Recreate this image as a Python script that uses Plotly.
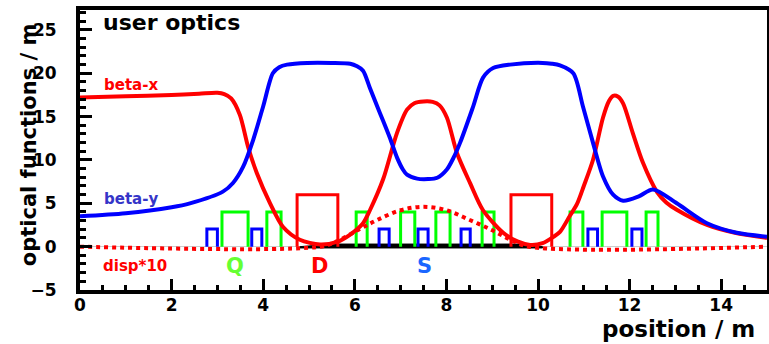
import plotly.graph_objects as go

# ---- data ----
s_betx = [0, 1, 2, 2.6, 3.0, 3.15, 3.3, 3.49, 3.67, 3.86, 4.15, 4.43, 4.8, 5.24, 5.61, 5.9, 6.18, 6.33,
          6.62, 6.92, 7.14, 7.3, 7.5, 7.7, 7.85, 8.01, 8.23, 8.52, 8.8, 9.24, 9.55, 9.83, 10.1, 10.33,
          10.48, 10.7, 10.85, 11.0, 11.2, 11.42, 11.55, 11.64, 11.75, 11.86, 12.07, 12.29, 12.6, 12.8, 13.03,
          13.69, 14.3, 15]
betx = [17.2, 17.35, 17.5, 17.65, 17.75, 17.6, 17.1, 15.2, 11.5, 8.5, 5.0, 2.3, 0.8, 0.25, 0.55, 1.4, 2.7, 4.2,
        7.8, 13.1, 15.8, 16.55, 16.75, 16.7, 16.3, 14.9, 10.8, 7.3, 4.2, 1.6, 0.6, 0.2, 0.4, 1.1,
        1.7, 3.6, 4.9, 7.0, 10.0, 14.9, 16.8, 17.4, 17.3, 16.5, 13.1, 9.7, 6.3, 5.1, 4.25,
        2.5, 1.6, 1.0]

s_bety = [0, 1, 2, 2.4, 3.12, 3.34, 3.56, 3.78, 4.0, 4.21, 4.35, 4.52, 4.96, 5.5, 5.9, 6.05, 6.18, 6.33,
          6.48, 6.62, 6.77, 6.92, 7.05, 7.14, 7.36, 7.6, 7.8, 8.01, 8.15, 8.3, 8.58, 8.8, 9.02, 9.39,
          10.1, 10.3, 10.48, 10.77, 10.98, 11.2, 11.42, 11.64, 11.86, 12.2, 12.51, 13.03, 13.69, 14.34, 15]
bety = [3.5, 3.85, 4.55, 5.0, 6.35, 7.35, 9.2, 12.3, 16.2, 20.0, 20.7, 21.0, 21.2, 21.2, 21.1, 20.8, 20.3, 18.3,
        16.3, 14.5, 12.5, 10.3, 8.9, 8.3, 7.85, 7.8, 7.95, 8.9, 10.2, 12.0, 16.1, 19.5, 20.6, 21.0,
        21.2, 21.1, 20.9, 20.0, 16.2, 12.0, 8.1, 6.0, 5.3, 5.8, 6.6, 5.0, 2.7, 1.6, 1.15]

s_disp = [0, 5.24, 5.6, 6.1, 6.5, 7.0, 7.5, 8.0, 8.5, 9.0, 9.4, 9.8, 15]
disp10 = [0, 0, 0.6, 2.0, 3.1, 4.2, 4.6, 4.2, 3.1, 1.9, 0.8, 0, 0]

# thick black band on the axis (beam pipe region)
band_s = [4.8, 5.5, 9.6, 10.1, 10.1, 4.8]
band_y = [0.0, 0.3, 0.3, 0.0, -0.15, -0.15]

# lattice elements: (start, end)
sext_start = [2.77, 3.75, 6.53, 7.38, 8.32, 11.09, 12.05]
sext_end = [3.00, 3.97, 6.75, 7.60, 8.52, 11.30, 12.27]
quad_start = [3.10, 4.08, 6.03, 7.00, 7.77, 8.78, 10.70, 11.40, 12.36]
quad_end = [3.67, 4.39, 6.27, 7.31, 8.08, 9.04, 10.98, 11.94, 12.62]
dip_start = [4.74, 9.41]
dip_end = [5.63, 10.30]
sext_h, quad_h, dip_h = 2.05, 4.0, 6.0

x_ticks = [0, 2, 4, 6, 8, 10, 12, 14]
y_ticks = [-5, 0, 5, 10, 15, 20, 25]

RED, BLUE, GREEN = "#ff0000", "#0000ff", "#00ff00"
FONT = "DejaVu Sans"

fig = go.Figure()

def boxes(starts, ends, h, color):
    xs, ys = [], []
    for a, b in zip(starts, ends):
        xs += [a, a, b, b, None]
        ys += [0, h, h, 0, None]
    fig.add_trace(go.Scatter(x=xs, y=ys, mode="lines",
                             line=dict(color=color, width=3), hoverinfo="skip"))

fig.add_trace(go.Scatter(x=band_s, y=band_y, fill="toself", mode="lines",
                         fillcolor="black", line=dict(color="black", width=1), hoverinfo="skip"))
boxes(sext_start, sext_end, sext_h, BLUE)
boxes(quad_start, quad_end, quad_h, GREEN)
boxes(dip_start, dip_end, dip_h, RED)

fig.add_trace(go.Scatter(x=s_disp, y=disp10, mode="lines", line_shape="spline",
                         line=dict(color=RED, width=4, dash="4px,4px")))
fig.add_trace(go.Scatter(x=s_betx, y=betx, mode="lines", line_shape="spline",
                         line=dict(color=RED, width=4, smoothing=0.8)))
fig.add_trace(go.Scatter(x=s_bety, y=bety, mode="lines", line_shape="spline",
                         line=dict(color=BLUE, width=4, smoothing=0.8)))

def label(x, y, text, color, size, anchor="left"):
    fig.add_annotation(x=x, y=y, text=text, showarrow=False, xanchor=anchor, yanchor="middle",
                       font=dict(family=FONT, size=size, color=color, weight="bold"))

label(0.45, 25.9, "user optics", "black", 22)
label(0.48, 18.6, "beta-x", RED, 15)
label(0.48, 5.5, "beta-y", "#3535c8", 15)
label(0.45, -2.2, "disp*10", RED, 15)
label(3.38, -2.2, "Q", "#66ff33", 21, "center")
label(5.24, -2.2, "D", RED, 21, "center")
label(7.53, -2.2, "S", "#1a66ff", 21, "center")

fig.add_annotation(xref="paper", yref="paper", x=0.985, y=-0.085, text="position / m",
                   showarrow=False, xanchor="right", yanchor="top",
                   font=dict(family=FONT, size=23, color="black", weight="bold"))
fig.add_annotation(xref="paper", yref="paper", x=-0.073, y=0.52, text="optical functions / m",
                   showarrow=False, textangle=-90, xanchor="center", yanchor="middle",
                   font=dict(family=FONT, size=21, color="black", weight="bold"))

axis_common = dict(showline=True, linecolor="black", linewidth=4, mirror=True, automargin=False,
                   ticks="inside", tickcolor="black", tickwidth=3, showgrid=False,
                   tickfont=dict(family=FONT, size=17, color="black", weight="bold"))
fig.update_xaxes(range=[0, 15], tickvals=x_ticks, ticklen=11, zeroline=False,
                 minor=dict(dtick=0.5, ticks="inside", ticklen=5, tickwidth=3, tickcolor="black"),
                 ticklabelstandoff=-3, **axis_common)
fig.update_yaxes(range=[-5, 27.3], tickvals=y_ticks, ticklen=12,
                 zeroline=True, zerolinecolor="#cccccc", zerolinewidth=1,
                 minor=dict(dtick=1, ticks="inside", ticklen=6, tickwidth=3, tickcolor="black"),
                 ticklabelstandoff=16, **axis_common)

fig.update_layout(width=769, height=344, margin=dict(l=80, r=2, t=10, b=54),
                  plot_bgcolor="white", paper_bgcolor="white", showlegend=False)

fig.write_html("out.html", config={"displayModeBar": False},
               post_script="document.body.style.margin='0px';document.body.style.overflow='hidden';")
